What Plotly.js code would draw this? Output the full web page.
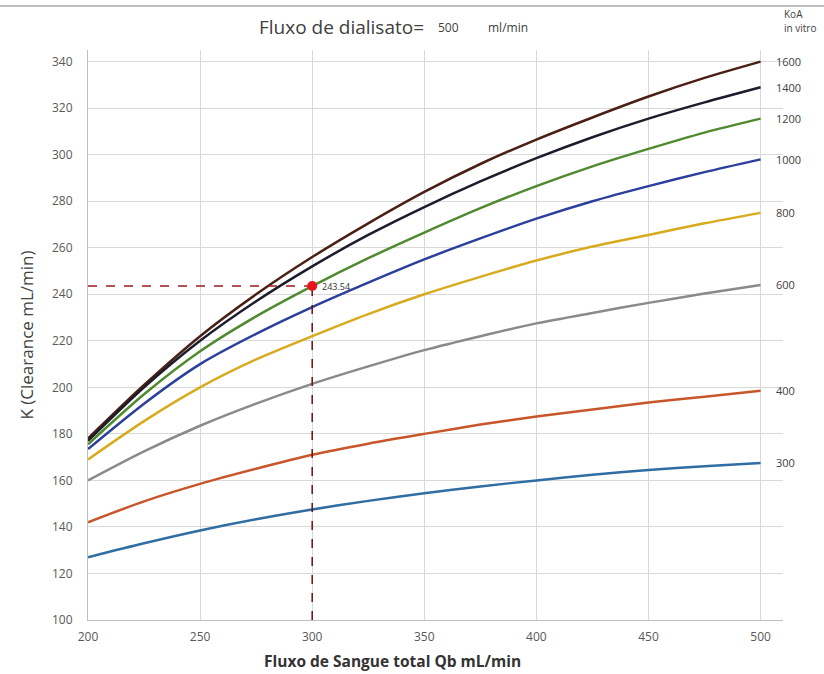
<!DOCTYPE html>
<html>
<head>
<meta charset="utf-8">
<script src="https://cdn.plot.ly/plotly-3.0.1.min.js"></script>
<style>html,body{margin:0;padding:0;background:#fff;}#chart{width:824px;height:674px;}</style>
</head>
<body>
<div id="chart"></div>
<script>
// Blood flow Qb (mL/min)
const qb = [200, 225, 250, 275, 300, 325, 350, 375, 400, 425, 450, 475, 500];
// Clearance K (mL/min) for each KoA in vitro
const k1600 = [178, 201, 222, 240, 256, 270.5, 284, 296, 306.5, 316, 325, 333, 340];
const k1400 = [177, 200, 220, 237, 252, 265.5, 277.5, 288.5, 298.5, 307.5, 315.5, 322.5, 329];
const k1200 = [175.5, 197, 215.5, 230.5, 243.5, 255.5, 266.5, 277, 286.5, 295, 302.5, 309.5, 315.5];
const k1000 = [173.5, 193, 210, 223, 234.5, 245, 255, 264, 272.5, 280, 286.5, 292.5, 298];
const k800  = [169, 185.5, 200, 212, 222, 231.5, 240, 247.5, 254.5, 260.5, 265.5, 270.5, 275];
const k600  = [160, 172.5, 183.5, 193, 201.5, 209, 216, 222, 227.5, 232, 236.3, 240.3, 244];
const k400  = [142, 151, 158.5, 165, 171, 175.8, 180, 184, 187.5, 190.5, 193.5, 196, 198.5];
const k300  = [127, 133, 138.5, 143.3, 147.5, 151.2, 154.5, 157.4, 160, 162.4, 164.5, 166.1, 167.5];
const koaLabels = ['1600', '1400', '1200', '1000', '800', '600', '400', '300'];
const seriesK = [k1600, k1400, k1200, k1000, k800, k600, k400, k300];
const colors = ['#4a1f14', '#1c1c2c', '#4f8a2e', '#2b3f9c', '#d8ab1e', '#8a8a8a', '#c8562a', '#2f6da3'];
// Highlighted point
const pointQb = [300];
const pointK = [243.54];
const pointLabel = '243.54';
const xTicks = [200, 250, 300, 350, 400, 450, 500];
const yTicks = [100, 120, 140, 160, 180, 200, 220, 240, 260, 280, 300, 320, 340];

const traces = seriesK.map((k, i) => ({
  x: qb, y: k, type: 'scatter', mode: 'lines', name: koaLabels[i],
  line: {color: colors[i], width: 2.5, shape: 'spline', smoothing: 0.8},
  showlegend: false
}));
traces.push({
  x: [xTicks[0], pointQb[0]], y: [pointK[0], pointK[0]], type: 'scatter', mode: 'lines',
  line: {color: '#9b1c1c', width: 1.5, dash: 'dash'}, showlegend: false
});
traces.push({
  x: [pointQb[0], pointQb[0]], y: [yTicks[0], pointK[0]], type: 'scatter', mode: 'lines',
  line: {color: '#6a1010', width: 1.5, dash: 'dash'}, showlegend: false
});
traces.push({
  x: pointQb, y: pointK, type: 'scatter', mode: 'markers',
  marker: {color: '#e8141c', size: 10}, showlegend: false
});

const font = 'Open Sans, Lato, Liberation Sans, sans-serif';
const annotations = seriesK.map((k, i) => ({
  x: qb[qb.length - 1], y: k[k.length - 1], xref: 'x', yref: 'y',
  text: koaLabels[i], showarrow: false, xanchor: 'left', yanchor: 'middle', xshift: 13,
  font: {family: font, size: 11, color: '#404040'}
}));
annotations.push({x: pointQb[0], y: pointK[0], xref: 'x', yref: 'y', text: pointLabel,
  showarrow: false, xanchor: 'left', yanchor: 'middle', xshift: 8,
  font: {family: font, size: 9, color: '#333'}});
annotations.push({x: 0.2425, y: 1.040, xref: 'paper', yref: 'paper', text: 'Fluxo de dialisato=',
  showarrow: false, xanchor: 'left', yanchor: 'middle', font: {family: font, size: 19, color: '#404040'}});
annotations.push({x: 0.5, y: 1.040, xref: 'paper', yref: 'paper', text: '500',
  showarrow: false, xanchor: 'left', yanchor: 'middle', font: {family: font, size: 12, color: '#404040'}});
annotations.push({x: 0.572, y: 1.040, xref: 'paper', yref: 'paper', text: 'ml/min',
  showarrow: false, xanchor: 'left', yanchor: 'middle', font: {family: font, size: 12, color: '#404040'}});
annotations.push({x: 0.9986, y: 1.064, xref: 'paper', yref: 'paper', text: 'KoA',
  showarrow: false, xanchor: 'left', yanchor: 'middle', font: {family: font, size: 10, color: '#404040'}});
annotations.push({x: 0.9986, y: 1.038, xref: 'paper', yref: 'paper', text: 'in vitro',
  showarrow: false, xanchor: 'left', yanchor: 'middle', font: {family: font, size: 10, color: '#404040'}});
// x-axis title (positioned as in the reference, left of plot centre)
annotations.push({x: 0.438, y: -0.072, xref: 'paper', yref: 'paper', text: '<b>Fluxo de Sangue total Qb mL/min</b>',
  showarrow: false, xanchor: 'center', yanchor: 'middle', font: {family: font, size: 15.5, color: '#333333'}});

const layout = {
  width: 824, height: 674,
  margin: {l: 88, r: 41, t: 50, b: 54},
  paper_bgcolor: '#ffffff', plot_bgcolor: '#ffffff',
  font: {family: font, color: '#595959'},
  xaxis: {
    range: [200, 510], tickvals: xTicks, ticktext: xTicks.map(String),
    showgrid: true, gridcolor: '#d9d9d9', gridwidth: 1,
    showline: true, linecolor: '#bfbfbf', linewidth: 1, zeroline: false,
    ticks: '', ticklabelstandoff: 6, tickfont: {size: 12, color: '#595959'}
  },
  yaxis: {
    range: [100, 345], tickvals: yTicks, ticktext: yTicks.map(String),
    showgrid: true, gridcolor: '#d9d9d9', gridwidth: 1,
    showline: true, linecolor: '#bfbfbf', linewidth: 1, zeroline: false,
    ticks: '', ticklabelstandoff: 12, tickfont: {size: 12, color: '#595959'},
    title: {text: 'K (Clearance mL/min)', font: {size: 17, color: '#404040'}, standoff: 14}
  },
  annotations: annotations,
  shapes: [{type: 'line', xref: 'paper', yref: 'paper', x0: -0.13, x1: 1.1, y0: 1.077, y1: 1.077,
    line: {color: '#bfbfbf', width: 2}}],
  showlegend: false
};
Plotly.newPlot('chart', traces, layout, {displayModeBar: false, staticPlot: true});
</script>
</body>
</html>
